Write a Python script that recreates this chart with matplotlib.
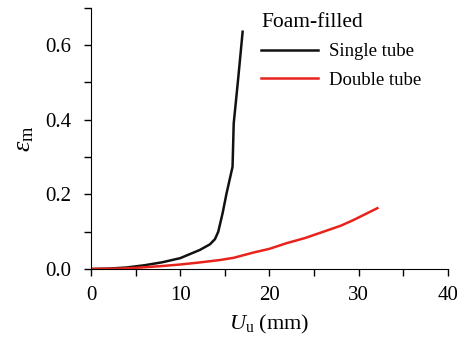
import matplotlib
matplotlib.use("Agg")
from matplotlib import pyplot as plt
from matplotlib.ticker import MultipleLocator

plt.rcParams['font.family'] = ['Liberation Serif', 'DejaVu Serif']
plt.rcParams['mathtext.fontset'] = 'custom'
plt.rcParams['mathtext.rm'] = 'Liberation Serif'
plt.rcParams['mathtext.it'] = 'Liberation Serif:italic'

# single tube (foam-filled)
single_x = [0, 2, 4, 6, 8, 10, 12.2, 13.33, 13.9, 14.27, 14.75, 15.2, 15.87, 16.0, 16.5, 17.0]
single_y = [0, 0.001, 0.004, 0.01, 0.018, 0.029, 0.051, 0.066, 0.08, 0.10, 0.149, 0.203, 0.274, 0.39, 0.51, 0.636]

# double tube (foam-filled)
double_x = [0, 3, 5, 8, 10, 12, 14.45, 16, 18.2, 20, 21.9, 24, 25.7, 28, 29.4, 31, 32.1]
double_y = [0, 0.001, 0.003, 0.008, 0.012, 0.017, 0.024, 0.03, 0.044, 0.054, 0.069, 0.083, 0.097, 0.116, 0.131, 0.150, 0.163]

fig = plt.figure(figsize=(4.57, 3.42), dpi=100)
ax = fig.add_axes([0.199, 0.2135, 0.781, 0.7635])

ax.plot(single_x, single_y, color='#111111', lw=1.8, label='Single tube')
ax.plot(double_x, double_y, color='#e8231c', lw=1.8, label='Double tube')

ax.set_xlim(0, 40)
ax.set_ylim(0, 0.7)
ax.xaxis.set_major_locator(MultipleLocator(10))
ax.xaxis.set_minor_locator(MultipleLocator(5))
ax.set_yticks([0, 0.2, 0.4, 0.6])
ax.yaxis.set_minor_locator(MultipleLocator(0.1))
ax.set_yticklabels(['0.0', '0.2', '0.4', '0.6'])

for s in ['top', 'right']:
    ax.spines[s].set_visible(False)
ax.tick_params(which='both', direction='out', length=5, width=1, labelsize=15)
ax.tick_params(axis='x', pad=7)
ax.tick_params(axis='y', pad=9)

ax.set_xlabel(r'$U_{\mathrm{u}}$ (mm)', fontsize=16, labelpad=6)
ax.set_ylabel(r'$\varepsilon_{\mathrm{m}}$', fontsize=19, labelpad=7)

leg = ax.legend(title='Foam-filled', loc='upper left', bbox_to_anchor=(0.43, 1.045),
                frameon=False, fontsize=13.5, title_fontsize=15.5, handlelength=3.0,
                handletextpad=0.6, labelspacing=0.6, alignment='left')

fig.savefig('out.png', dpi=100)
